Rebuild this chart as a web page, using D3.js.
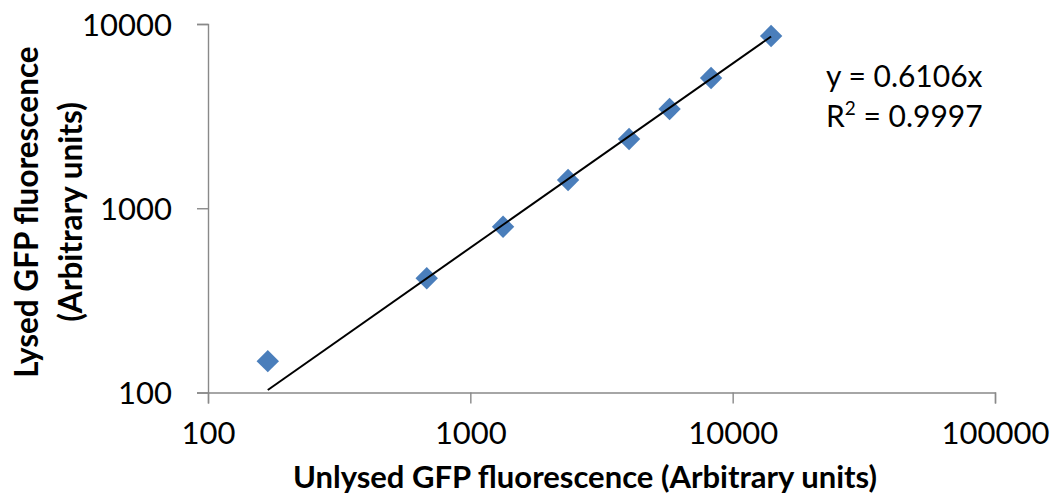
<!DOCTYPE html>
<html>
<head>
<meta charset="utf-8">
<script src="https://cdn.jsdelivr.net/npm/d3@7"></script>
<style>
  html, body { margin: 0; padding: 0; background: #fff; }
  svg { display: block; }
  text { font-family: Lato, "Open Sans", sans-serif; fill: #000; }
</style>
</head>
<body>
<svg id="chart" width="1057" height="502"></svg>
<script>
// Unlysed vs lysed GFP fluorescence (arbitrary units)
const unlysed = [169, 682, 1333, 2358, 4027, 5747, 8273, 14010];
const lysed   = [148, 417, 794, 1424, 2376, 3456, 5092, 8607];
const xTicks = [100, 1000, 10000, 100000];
const yTicks = [100, 1000, 10000];
const slope = 0.6106;
const rSquared = "0.9997";

const svg = d3.select("#chart");
const plot = { left: 208, right: 995, top: 24, bottom: 392.5 };

const x = d3.scaleLog().domain([100, 100000]).range([plot.left, plot.right]);
const y = d3.scaleLog().domain([100, 10000]).range([plot.bottom, plot.top]);

const axisColor = "#898989";
const tickFont = 31;

// x axis
const gx = svg.append("g").attr("transform", `translate(0,${plot.bottom})`)
  .call(d3.axisBottom(x).tickValues(xTicks).tickFormat(d3.format("d")).tickSizeOuter(0).tickSize(11).tickPadding(18));
// y axis
const gy = svg.append("g").attr("transform", `translate(${plot.left},0)`)
  .call(d3.axisLeft(y).tickValues(yTicks).tickFormat(d3.format("d")).tickSizeOuter(0).tickSize(11).tickPadding(25));

[gx, gy].forEach(g => {
  g.select(".domain").attr("stroke", axisColor).attr("stroke-width", 1.4);
  g.selectAll(".tick line").attr("stroke", axisColor).attr("stroke-width", 1.4);
  g.selectAll(".tick text").attr("font-size", tickFont).attr("fill", "#000")
    .style("font-family", "Lato, 'Open Sans', sans-serif");
});
gy.selectAll(".tick text").attr("dy", "0.36em");

// markers
svg.append("g").selectAll("path")
  .data(unlysed.map((u, i) => [u, lysed[i]]))
  .join("path")
  .attr("d", d3.symbol().type(d3.symbolDiamond2).size(320))
  .attr("transform", d => `translate(${x(d[0])},${y(d[1])})`)
  .attr("fill", "#4A7EBB");

// linear trendline through origin
const x0 = d3.min(unlysed), x1 = d3.max(unlysed);
svg.append("line")
  .attr("x1", x(x0)).attr("y1", y(slope * x0))
  .attr("x2", x(x1)).attr("y2", y(slope * x1))
  .attr("stroke", "#000").attr("stroke-width", 2);

// trendline equation
const eq = svg.append("g").attr("font-size", 30);
eq.append("text").attr("x", 826).attr("y", 87).text(`y = ${slope}x`);
const r = eq.append("text").attr("x", 826).attr("y", 127);
r.append("tspan").text("R");
r.append("tspan").attr("font-size", 19).attr("dy", -12).text("2");
r.append("tspan").attr("dy", 12).text(` = ${rSquared}`);

// axis titles
svg.append("text")
  .attr("x", 585).attr("y", 488)
  .attr("text-anchor", "middle").attr("font-size", 31).attr("font-weight", "bold")
  .text("Unlysed GFP fluorescence (Arbitrary units)");

const yt = svg.append("g").attr("transform", "translate(0,212) rotate(-90)")
  .attr("text-anchor", "middle").attr("font-size", 31.5).attr("font-weight", "bold");
yt.append("text").attr("x", 0).attr("y", 38).text("Lysed GFP fluorescence");
yt.append("text").attr("x", 0).attr("y", 82).text("(Arbitrary units)");
</script>
</body>
</html>
